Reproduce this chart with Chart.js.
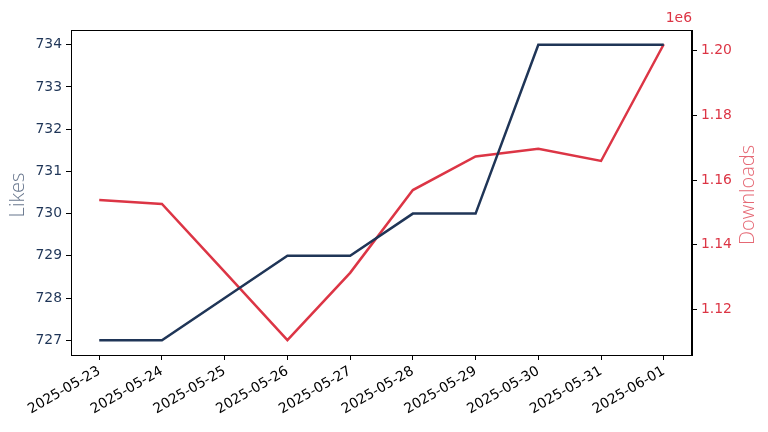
<!DOCTYPE html>
<html>
<head>
<meta charset="utf-8">
<script src="https://cdn.jsdelivr.net/npm/chart.js@4.4.1/dist/chart.umd.min.js"></script>
<style>
  html, body { margin: 0; padding: 0; background: #fff; }
  #wrap { width: 768px; height: 432px; }
</style>
</head>
<body>
<div id="wrap"><canvas id="chart"></canvas></div>
<script>
const dates = ["2025-05-23", "2025-05-24", "2025-05-25", "2025-05-26", "2025-05-27",
  "2025-05-28", "2025-05-29", "2025-05-30", "2025-05-31", "2025-06-01"];
const likes = [727, 727, 728, 729, 729, 730, 730, 734, 734, 734];
const downloads = [1153800, 1152600, 1131600, 1110500, 1131300,
  1156900, 1167300, 1169700, 1165900, 1202000];
const likesTicks = [727, 728, 729, 730, 731, 732, 733, 734];
const downloadTicks = [1120000, 1140000, 1160000, 1180000, 1200000];

const navy = "#1f3557";
const red = "#dc3545";
const font = "'DejaVu Sans', sans-serif";

// box round the plot, the 1e6 offset text and both axis titles (read bottom to top)
const frame = {
  id: "frame",
  afterDraw(chart) {
    const { ctx, chartArea: a } = chart;
    ctx.save();
    ctx.strokeStyle = "#000";
    ctx.lineWidth = 1;
    ctx.strokeRect(a.left + 0.5, a.top + 0.5, a.right - a.left - 1, a.bottom - a.top);
    ctx.fillStyle = red;
    ctx.font = "13.9px " + font;
    ctx.textAlign = "right";
    ctx.textBaseline = "bottom";
    ctx.fillText("1e6", a.right, a.top - 5);

    ctx.font = "300 20px 'Open Sans', sans-serif";
    ctx.textAlign = "center";
    ctx.textBaseline = "middle";
    ctx.save();
    ctx.translate(18.5, 195);
    ctx.rotate(-Math.PI / 2);
    ctx.fillStyle = "rgba(31,53,87,0.7)";
    ctx.fillText("Likes", 0, 0);
    ctx.restore();
    ctx.translate(748.5, 195);
    ctx.rotate(-Math.PI / 2);
    ctx.fillStyle = "rgba(220,53,69,0.75)";
    ctx.fillText("Downloads", 0, 0);
    ctx.restore();
  }
};

const pts = arr => arr.map((v, i) => ({ x: i, y: v }));

new Chart(document.getElementById("chart"), {
  type: "line",
  data: {
    datasets: [
      { label: "Likes", data: pts(likes), borderColor: navy, borderWidth: 2.5,
        pointRadius: 0, yAxisID: "y", tension: 0 },
      { label: "Downloads", data: pts(downloads), borderColor: red, borderWidth: 2.5,
        pointRadius: 0, yAxisID: "y1", tension: 0 }
    ]
  },
  options: {
    responsive: true,
    maintainAspectRatio: false,
    animation: false,
    layout: { padding: { top: 30, left: 0, right: 0, bottom: 0 } },
    plugins: { legend: { display: false }, tooltip: { enabled: false } },
    scales: {
      x: {
        type: "linear",
        min: -0.45,
        max: 9.45,
        afterBuildTicks: s => { s.ticks = dates.map((d, i) => ({ value: i })); },
        afterFit: s => { s.height = 77; },
        grid: { drawOnChartArea: false, drawTicks: true, tickLength: 5, color: "#000" },
        border: { display: true, color: "#000" },
        ticks: {
          callback: v => dates[v],
          color: "#000",
          font: { family: font, size: 13.9 },
          maxRotation: 30,
          minRotation: 30,
          padding: 3,
          autoSkip: false
        }
      },
      y: {
        position: "left",
        min: 726.65,
        max: 734.35,
        afterBuildTicks: s => { s.ticks = likesTicks.map(v => ({ value: v })); },
        afterFit: s => { s.width = 71; },
        grid: { drawOnChartArea: false, drawTicks: true, tickLength: 5, color: "#000" },
        border: { display: true, color: "#000" },
        ticks: { color: navy, font: { family: font, size: 13.9 }, padding: 4 }
      },
      y1: {
        position: "right",
        min: 1105900,
        max: 1206400,
        afterBuildTicks: s => { s.ticks = downloadTicks.map(v => ({ value: v })); },
        afterFit: s => { s.width = 76; },
        grid: { drawOnChartArea: false, drawTicks: true, tickLength: 5, color: "#000" },
        border: { display: true, color: "#000" },
        ticks: { color: red, font: { family: font, size: 13.9 }, padding: 4,
          callback: v => (v / 1e6).toFixed(2) }
      }
    }
  },
  plugins: [frame]
});
</script>
</body>
</html>
